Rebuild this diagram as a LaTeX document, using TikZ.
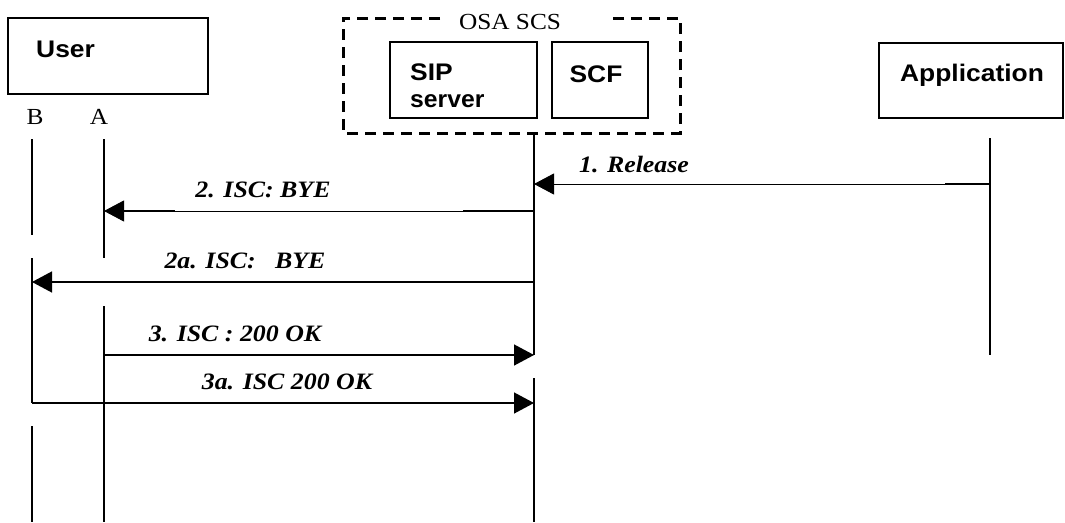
\documentclass[tikz,border=0pt]{standalone}
\usepackage{fontspec}
\setmainfont{Liberation Serif}
\setsansfont{Liberation Sans}
\usetikzlibrary{arrows.meta}
\newcommand\wider[1]{\scalebox{1.1}[1]{#1}}
\begin{document}
\begin{tikzpicture}[x=1pt,y=-1pt,
  box/.style={draw, line width=1.6pt, inner sep=0pt},
  lbl/.style={font=\fontsize{23.5}{26}\selectfont\bfseries\itshape, inner sep=0pt, anchor=base},
  ent/.style={font=\fontsize{24}{28}\selectfont\sffamily\bfseries, inner sep=0pt},
  port/.style={font=\fontsize{23}{26}\selectfont, inner sep=0pt, anchor=base},
  life/.style={line width=1.8pt},
  msg/.style={line width=1.4pt, -{Triangle[length=20pt,width=21pt]}},
  thin msg/.style={line width=0.9pt, -{Triangle[length=20pt,width=21pt]}},
  thick seg/.style={line width=1.8pt},
  group/.style={line width=3pt, dash pattern=on 11pt off 7pt},
]
\useasboundingbox (0,0) rectangle (1065,522);

% entity boxes
\node[box, minimum width=200pt, minimum height=76pt] (user) at (108,56) {};
\node[ent, anchor=base west] (usert) at (36,57) {\wider{User}};
\node[box, minimum width=147pt, minimum height=76pt] (sip) at (463.5,80) {};
\node[ent, anchor=base west] (sipt1) at (410,80) {\wider{SIP}};
\node[ent, anchor=base west] (sipt2) at (410,107) {\scalebox{1.03}[1]{server}};
\node[box, minimum width=96pt, minimum height=76pt] (scf) at (600,80) {};
\node[ent, anchor=base] (scft) at (596,82) {\wider{SCF}};
\node[box, minimum width=184pt, minimum height=75pt] (app) at (971,80.5) {};
\node[ent, anchor=base] (appt) at (972,81) {\wider{Application}};

% OSA SCS group
\draw[group] (440,18) -- (343,18) -- (343,133) -- (680,133) -- (680,18) -- (607,18);
\node[port] (osa) at (510,29) {\wider{OSA SCS}};

% ports
\node[port] (pb) at (35,124) {\wider{B}};
\node[port] (pa) at (99,124) {\wider{A}};

% lifeline coordinates
\coordinate (b0) at (32,139);  \coordinate (b1) at (32,235);
\coordinate (b2) at (32,258);  \coordinate (b3) at (32,403);
\coordinate (b4) at (32,426);  \coordinate (b5) at (32,522);
\coordinate (a0) at (104,139); \coordinate (a1) at (104,258);
\coordinate (a2) at (104,306); \coordinate (a5) at (104,522);
\coordinate (s0) at (534,133); \coordinate (s1) at (534,355);
\coordinate (s2) at (534,378); \coordinate (s5) at (534,522);
\coordinate (p0) at (990,138); \coordinate (p1) at (990,355);

\draw[life] (b0) -- (b1);
\draw[life] (b2) -- (b3);
\draw[life] (b4) -- (b5);
\draw[life] (a0) -- (a1);
\draw[life] (a2) -- (a5);
\draw[life] (s0) -- (s1);
\draw[life] (s2) -- (s5);
\draw[life] (p0) -- (p1);

% message end points
\coordinate (m1s) at (990,184); \coordinate (m1e) at (534,184);
\coordinate (m2s) at (534,211); \coordinate (m2e) at (104,211);
\coordinate (m2as) at (534,282); \coordinate (m2ae) at (32,282);
\coordinate (m3s) at (104,355); \coordinate (m3e) at (534,355);
\coordinate (m3as) at (32,403); \coordinate (m3ae) at (534,403);
\coordinate (k1) at (945,184);
\coordinate (k2) at (463,211);
\coordinate (k3) at (175,211); \coordinate (k4) at (118,211);

% messages
\draw[thin msg] (m1s) -- (m1e);
\draw[thick seg] (k1) -- (m1s);
\node[lbl] (l1) at (634,172) {\wider{1. Release}};

\draw[thin msg] (m2s) -- (m2e);
\draw[thick seg] (k2) -- (m2s);
\draw[thick seg] (k4) -- (k3);
\node[lbl] (l2) at (263,197) {\wider{2. ISC: BYE}};

\draw[msg] (m2as) -- (m2ae);
\node[lbl] (l2a) at (245,268) {\wider{2a. ISC:\ \ \ BYE}};

\draw[msg] (m3s) -- (m3e);
\node[lbl] (l3) at (235,341) {\wider{3. ISC : 200 OK}};

\draw[msg] (m3as) -- (m3ae);
\node[lbl] (l3a) at (287,389) {\wider{3a. ISC 200 OK}};
\end{tikzpicture}
\end{document}
